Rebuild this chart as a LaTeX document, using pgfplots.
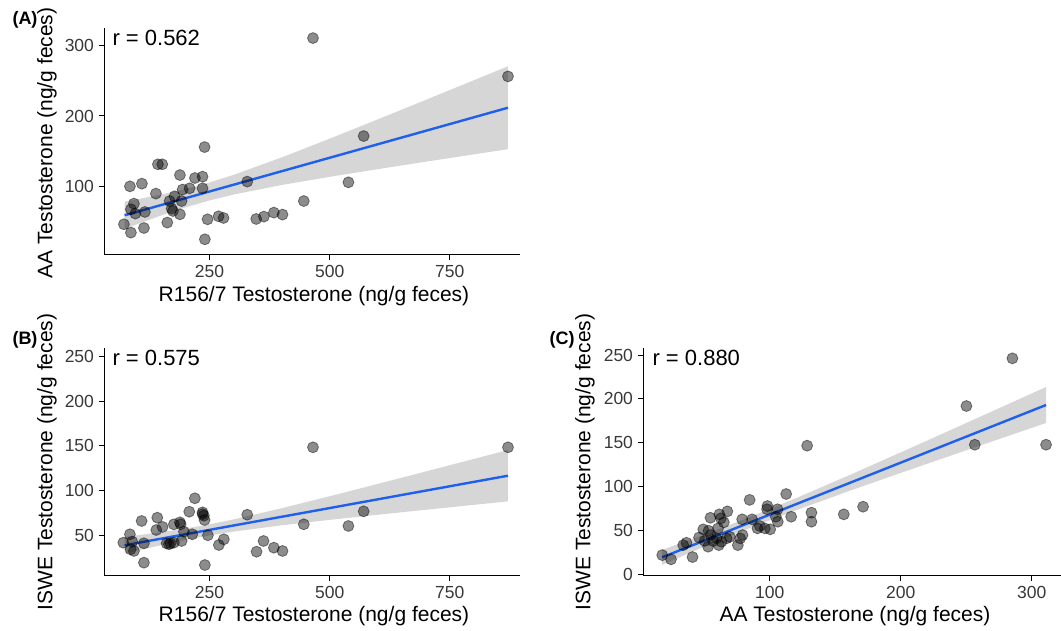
\documentclass[border=0pt]{standalone}
\usepackage{fontspec}
\setmainfont{Liberation Sans}
\usepackage{pgfplots}
\pgfplotsset{compat=1.18}
\definecolor{smoothblue}{RGB}{30,95,235}
\definecolor{bandgray}{RGB}{153,153,153}
\pgfplotsset{
 panel/.style={
  scale only axis,
  anchor=south west,
  axis lines=left,
  axis line style={-, line width=1pt, black},
  tick align=outside,
  major tick length=5pt,
  tick style={line width=1pt, black},
  ticklabel style={font=\fontsize{17.5}{20}\selectfont, text=black!78},
  yticklabel style={xshift=-1.5pt},
  xticklabel style={yshift=-1.5pt},
  /pgf/number format/assume math mode=true,
  scaled ticks=false,
 },
 pts/.style={only marks, mark=*, mark size=5.5pt,
   mark options={fill=black, fill opacity=0.45, draw=black, draw opacity=0.45, line width=0.8pt}},
 fit/.style={color=smoothblue, line width=2.4pt, no marks},
 band/.style={draw=none, fill=bandgray, fill opacity=0.4, no marks},
}
\newcommand{\titlefont}{\fontsize{21}{23}\selectfont}
\begin{document}
\begin{tikzpicture}
\useasboundingbox (0pt,0pt) rectangle (1061pt,631pt);
% ---------------- Panel A ----------------
\begin{axis}[panel, at={(104pt,376pt)}, width=416pt, height=227pt,
  xmin=30.3, xmax=896, ymin=3.2, ymax=324.6,
  xtick={250,500,750}, ytick={100,200,300}]
\addplot[pts] coordinates {
(239.6,156.0)(142.5,131.6)(151.6,131.6)(188.3,116.4)(84.3,100.4)(109.2,104.2)
(219.5,112.2)(235.4,114.1)(193.8,95.8)(208.4,97.6)(235.4,97.6)(138.3,90.1)
(328.4,107.1)(177.2,86.3)(166.8,79.6)(191.8,79.6)(92.6,75.9)(86.3,67.9)
(95.5,61.8)(115.4,64.1)(171.0,68.9)(173.7,65.5)(188.3,60.8)(71.8,46.7)
(86.3,34.9)(113.4,41.4)(162.0,49.1)(245.8,53.7)(268.7,58.0)(279.1,55.6)
(240.2,25.4)(347.1,54.2)(363.0,57.5)(383.8,63.2)(401.8,60.4)(446.1,79.6)
(465.2,310.3)(871.0,256.1)(570.7,171.6)(538.9,106.1)};
\addplot[band] coordinates {
(73.2,40.10)(100,46.97)(150,59.29)(200,70.58)(250,80.45)(300,88.77)(400,102.27)
(500,113.86)(600,124.73)(700,135.28)(800,145.68)(871,153.0)
(871,270.4)(800,250.62)(700,222.84)(600,195.21)(500,167.90)(400,141.31)
(300,116.63)(250,105.87)(200,96.64)(150,88.85)(100,82.07)(73.2,78.70)} -- cycle;
\addplot[fit] coordinates {(73.2,59.40)(871,211.70)};
\end{axis}
% ---------------- Panel B ----------------
\begin{axis}[panel, at={(104pt,55pt)}, width=416pt, height=228pt,
  xmin=30.3, xmax=896, ymin=4.1, ymax=259.4,
  xtick={250,500,750}, ytick={50,100,150,200,250}]
\addplot[pts] coordinates {
(219.4,91.1)(207.7,76.1)(235.4,75.4)(238.1,71.6)(239.6,66.8)(235.4,73.4)
(328.4,72.7)(108.6,65.7)(141.2,69.4)(139.1,55.6)(152.2,59.0)(175.7,62.0)
(188.3,64.2)(189.8,62.0)(196.6,53.7)(214.0,50.8)(246.5,49.7)(84.2,50.8)
(70.5,41.4)(89.2,42.5)(85.7,34.0)(92.6,32.1)(113.4,40.7)(160.6,40.7)
(168.9,40.7)(175.7,41.4)(191.8,43.3)(165.4,39.6)(113.4,19.0)(240.2,16.4)
(269.3,38.8)(279.7,45.2)(347.8,31.3)(362.3,43.3)(383.8,35.8)(401.8,32.1)
(446.1,62.0)(465.2,148.2)(871.0,148.2)(538.9,60.1)(570.7,76.5)};
\addplot[band] coordinates {
(73.2,29.04)(100,32.51)(150,38.75)(200,44.50)(250,49.53)(300,53.81)(400,60.85)
(500,66.93)(600,72.66)(700,78.25)(800,83.75)(871,87.64)
(871,145.16)(800,135.17)(700,121.15)(600,107.20)(500,93.41)(400,79.97)
(300,67.47)(250,61.99)(200,57.26)(150,53.23)(100,49.71)(73.2,47.96)} -- cycle;
\addplot[fit] coordinates {(73.2,38.5)(871,116.4)};
\end{axis}
% ---------------- Panel C ----------------
\begin{axis}[panel, at={(643pt,55pt)}, width=421pt, height=228pt,
  xmin=3.2, xmax=324.6, ymin=-2, ymax=258,
  xtick={100,200,300}, ytick={0,50,100,150,200,250}]
\addplot[pts] coordinates {
(285.2,246.2)(250.1,191.8)(256.5,147.7)(310.9,147.7)(128.5,146.6)(171.2,77.0)
(156.5,68.3)(131.8,70.2)(131.8,59.9)(112.5,91.5)(84.6,84.8)(17.9,21.8)
(24.6,17.0)(41.0,19.6)(98.2,77.8)(97.9,74.1)(105.9,74.1)(116.3,65.6)
(106.1,59.9)(104.6,65.6)(54.7,64.4)(61.5,68.3)(67.6,71.7)(62.6,63.7)
(64.9,59.2)(60.5,52.3)(78.9,62.6)(86.5,62.6)(92.4,55.0)(96.2,52.3)
(100.3,51.2)(90.6,52.3)(79.2,44.7)(77.4,40.9)(75.6,33.2)(46.0,41.9)
(50.3,38.0)(54.9,44.7)(52.9,31.4)(61.1,33.2)(63.1,37.1)(67.0,40.9)
(69.5,42.7)(56.7,37.9)(59.3,40.9)(36.4,35.9)(33.9,33.2)(49.2,51.2)(53.3,49.6)};
\addplot[band] coordinates {
(17.8,10.8)(50,31.48)(85,52.92)(120,72.96)(160,94.60)(200,115.55)(250,141.34)(310.9,172.5)
(310.9,213.5)(250,172.46)(200,138.99)(160,112.54)(120,86.76)(85,65.32)(50,45.28)(17.8,27.8)} -- cycle;
\addplot[fit] coordinates {(17.8,19.3)(310.9,193.0)};
\end{axis}
% ---------------- Texts ----------------
\node[rotate=90] at (47pt,488pt) {\titlefont AA Testosterone (ng/g feces)};
\node at (314pt,335pt) {\titlefont R156/7 Testosterone (ng/g feces)};
\node[rotate=90] at (47pt,169pt) {\titlefont ISWE Testosterone (ng/g feces)};
\node at (314pt,15pt) {\titlefont R156/7 Testosterone (ng/g feces)};
\node[rotate=90] at (585pt,169pt) {\titlefont ISWE Testosterone (ng/g feces)};
\node at (855pt,15pt) {\titlefont AA Testosterone (ng/g feces)};
\node[anchor=west] at (109pt,593.5pt) {\fontsize{22}{24}\selectfont r = 0.562};
\node[anchor=west] at (109pt,273.3pt) {\fontsize{22}{24}\selectfont r = 0.575};
\node[anchor=west] at (649pt,273.3pt) {\fontsize{22}{24}\selectfont r = 0.880};
\node at (25pt,611pt) {\fontsize{18}{20}\selectfont\bfseries (A)};
\node at (25pt,291pt) {\fontsize{18}{20}\selectfont\bfseries (B)};
\node at (562pt,291pt) {\fontsize{18}{20}\selectfont\bfseries (C)};
\end{tikzpicture}
\end{document}
